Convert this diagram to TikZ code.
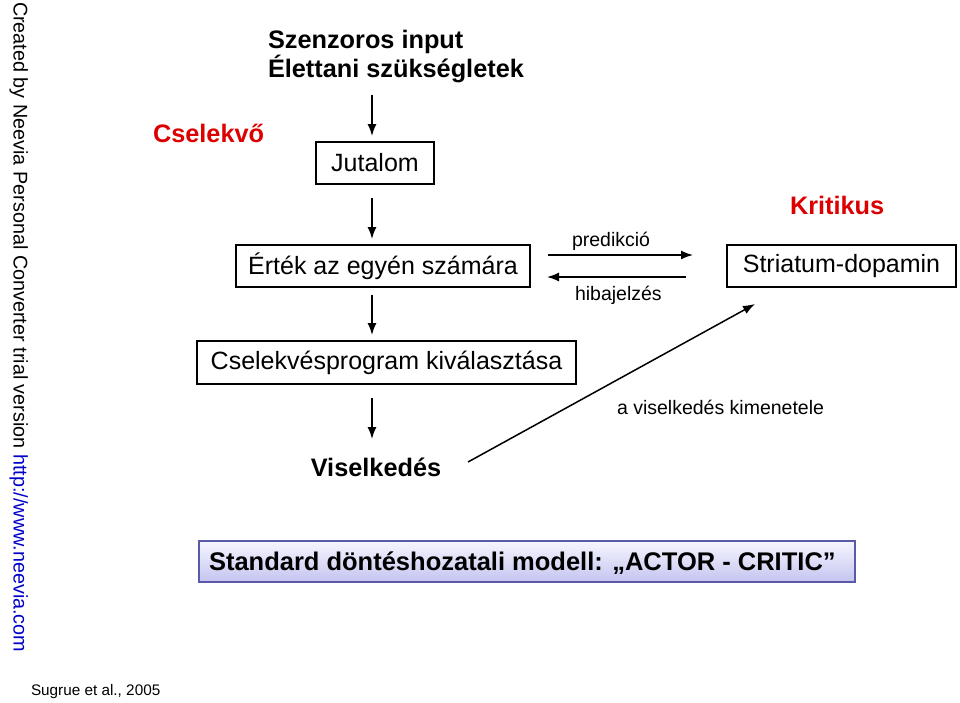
\documentclass[tikz,border=0pt]{standalone}
\usepackage{fontspec}
\setmainfont{Liberation Sans}
\usetikzlibrary{arrows.meta}
\definecolor{critred}{RGB}{220,0,0}
\definecolor{linkblue}{RGB}{0,0,200}
\definecolor{boxedge}{RGB}{90,90,170}
\definecolor{boxtop}{RGB}{246,246,255}
\definecolor{boxbot}{RGB}{196,196,240}
\begin{document}
\begin{tikzpicture}[x=1pt,y=-1pt,
  every node/.style={inner sep=0pt,outer sep=0pt},
  big/.style={font=\fontsize{25}{30}\selectfont},
  bigb/.style={font=\fontsize{25.3}{30}\selectfont\bfseries},
  mid/.style={font=\fontsize{19.5}{23}\selectfont},
  framed/.style={draw,line width=1.3pt,font=\fontsize{25}{30}\selectfont},
  arr/.style={line width=1.5pt,-{Latex[length=12pt,width=9pt]}}]
\useasboundingbox (0,0) rectangle (960,702);
% side watermark
\node[rotate=-90,anchor=north west,font=\fontsize{19.8}{22}\selectfont] (side) at (28,2)
  {Created by Neevia Personal Converter trial version \textcolor{linkblue}{http://www.neevia.com}};
% top text
\node[bigb,anchor=base west] (in1) at (268,48) {Szenzoros input};
\node[bigb,anchor=base west] (in2) at (268,77) {Élettani szükségletek};
\node[bigb,anchor=base west,text=critred] (actor) at (153,142) {Cselekvő};
% boxes
\node[framed,minimum width=118pt,minimum height=42pt] (jut) at (375,163) {Jutalom};
\node[framed,minimum width=294pt,minimum height=42pt] (ert) at (383,266) {Érték az egyén számára};
\node[framed,minimum width=379pt,minimum height=43pt] (prog) at (386.5,362.5) {Cselekvésprogram kiválasztása};
\node[bigb,anchor=base] (visel) at (376,476) {Viselkedés};
\node[bigb,anchor=base west,text=critred] (krit) at (790,214) {Kritikus};
\node[framed,minimum width=229pt,minimum height=42pt] (str) at (841.5,266) {Striatum-dopamin};
\node[mid,anchor=base west] (pred) at (572,246) {predikció};
\node[mid,anchor=base west] (hiba) at (575,300) {hibajelzés};
\node[mid,anchor=base west] (kim) at (617,414) {a viselkedés kimenetele};
\node[draw=boxedge,line width=1.3pt,top color=boxtop,bottom color=boxbot,
  minimum width=656pt,minimum height=41pt] (std) at (527,561.5) {};
\node[font=\fontsize{25.5}{30}\selectfont\bfseries,anchor=base west] (stdtext) at (209,570)
  {Standard döntéshozatali modell: „ACTOR - CRITIC”};
\node[font=\fontsize{15.3}{18}\selectfont,anchor=base west] (ref) at (31,695) {Sugrue et al., 2005};
% connectors
\coordinate (a1) at (372,95);   \coordinate (a1e) at (372,136);
\coordinate (a2) at (372,198);  \coordinate (a2e) at (372,239);
\coordinate (a3) at (372,295);  \coordinate (a3e) at (372,335);
\coordinate (a4) at (372,398);  \coordinate (a4e) at (372,439);
\draw[arr] (a1) -- (a1e);
\draw[arr] (a2) -- (a2e);
\draw[arr] (a3) -- (a3e);
\draw[arr] (a4) -- (a4e);
\coordinate (p1) at (548,255);
\coordinate (p2) at (693,255);
\draw[arr] (p1) -- (p2);
\coordinate (h1) at (686,277);
\coordinate (h2) at (547,277);
\draw[arr] (h1) -- (h2);
\coordinate (d1) at (468,462);
\coordinate (d2) at (755,304);
\draw[arr] (d1) -- (d2);
\end{tikzpicture}
\end{document}
